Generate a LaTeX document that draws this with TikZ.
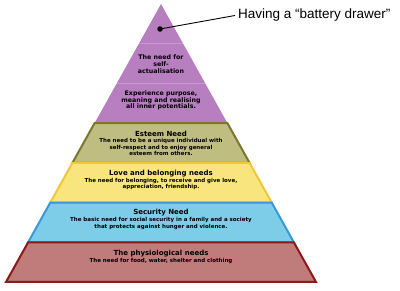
\documentclass[tikz,border=0pt]{standalone}
\usepackage{fontspec}
\usepackage{tikz}
\usetikzlibrary{positioning,calc}
\newfontfamily\pyrfont{DejaVu Sans}
\newfontfamily\calloutfont{Liberation Sans}
\definecolor{selfcol}   {RGB}{183,126,192}
\definecolor{selfline}  {RGB}{200,154,208}
\definecolor{esteemcol} {RGB}{191,189,130}
\definecolor{esteemdraw}{RGB}{122,120,42}
\definecolor{lovecol}   {RGB}{248,229,125}
\definecolor{lovedraw}  {RGB}{242,198,52}
\definecolor{seccol}    {RGB}{125,205,232}
\definecolor{secdraw}   {RGB}{58,152,214}
\definecolor{physcol}   {RGB}{192,123,123}
\definecolor{physdraw}  {RGB}{139,26,26}
\begin{document}
\begin{tikzpicture}[
  x=1pt,y=-1pt,
  layer/.style={line width=2pt,line join=miter},
  ptitle/.style={font=\pyrfont\bfseries\fontsize{7}{8}\selectfont,
                 inner sep=0pt,align=center},
  pbody/.style={font=\pyrfont\bfseries\fontsize{5.5}{6.3}\selectfont,
                inner sep=0pt,align=center},
  pself/.style={font=\pyrfont\bfseries\fontsize{6.3}{7}\selectfont,
                inner sep=0pt,align=center}
]
\useasboundingbox (0,0) rectangle (400,291);
% top of the pyramid
\fill[selfcol] (161,4) -- (94.6,123.1) -- (227.4,123.1) -- cycle;
\draw[selfline,line width=0.6pt] (138.9,43.7) -- (183.1,43.7);
\draw[selfline,line width=0.6pt] (116.7,83.4) -- (205.3,83.4);
% lower layers
\foreach \ytop/\ybot/\fc/\dc in {123.1/162.9/esteemcol/esteemdraw,
                                 162.9/202.6/lovecol/lovedraw,
                                 202.6/242.3/seccol/secdraw,
                                 242.3/282/physcol/physdraw}{
  \pgfmathsetmacro\wt{0.55755*(\ytop-4)}
  \pgfmathsetmacro\wb{0.55755*(\ybot-4)}
  \draw[layer,fill=\fc,draw=\dc] ({161-\wt},\ytop) -- ({161+\wt},\ytop)
    -- ({161+\wb},\ybot) -- ({161-\wb},\ybot) -- cycle;
}
% texts
\node[pself] (selfT) at (161,64)
  {The need for\\self-\\actualisation};
\node[pself,font=\pyrfont\bfseries\fontsize{6.3}{6.6}\selectfont] (selfB) at (161,100.5)
  {Experience purpose,\\meaning and realising\\all inner potentials.};
\node[ptitle] (esteemT) at (161,134) {Esteem Need};
\node[pbody] (esteemB) at (161,147.2)
  {The need to be a unique individual with\\self-respect and to enjoy general\\esteem from others.};
\node[ptitle] (loveT) at (161,174) {Love and belonging needs};
\node[pbody] (loveB) at (161,183.8)
  {The need for belonging, to receive and give love,\\appreciation, friendship.};
\node[ptitle] (secT) at (161,213) {Security Need};
\node[pbody] (secB) at (161,223.6)
  {The basic need for social security in a family and a society\\that protects against hunger and violence.};
\node[ptitle] (physT) at (161,254) {The physiological needs};
\node[pbody] (physB) at (161,261)
  {The need for food, water, shelter and clothing};
% callout
\node[circle,fill=black,inner sep=0pt,minimum size=5.5pt] (dot) at (160,29) {};
\node[font=\calloutfont\fontsize{13.5}{15}\selectfont,inner sep=0pt,anchor=west]
  (callout) at (238,15.5) {Having a “battery drawer”};
\draw[line width=0.9pt] (dot.center) -- ($(callout.west)+(-3,0)$);
\end{tikzpicture}
\end{document}
